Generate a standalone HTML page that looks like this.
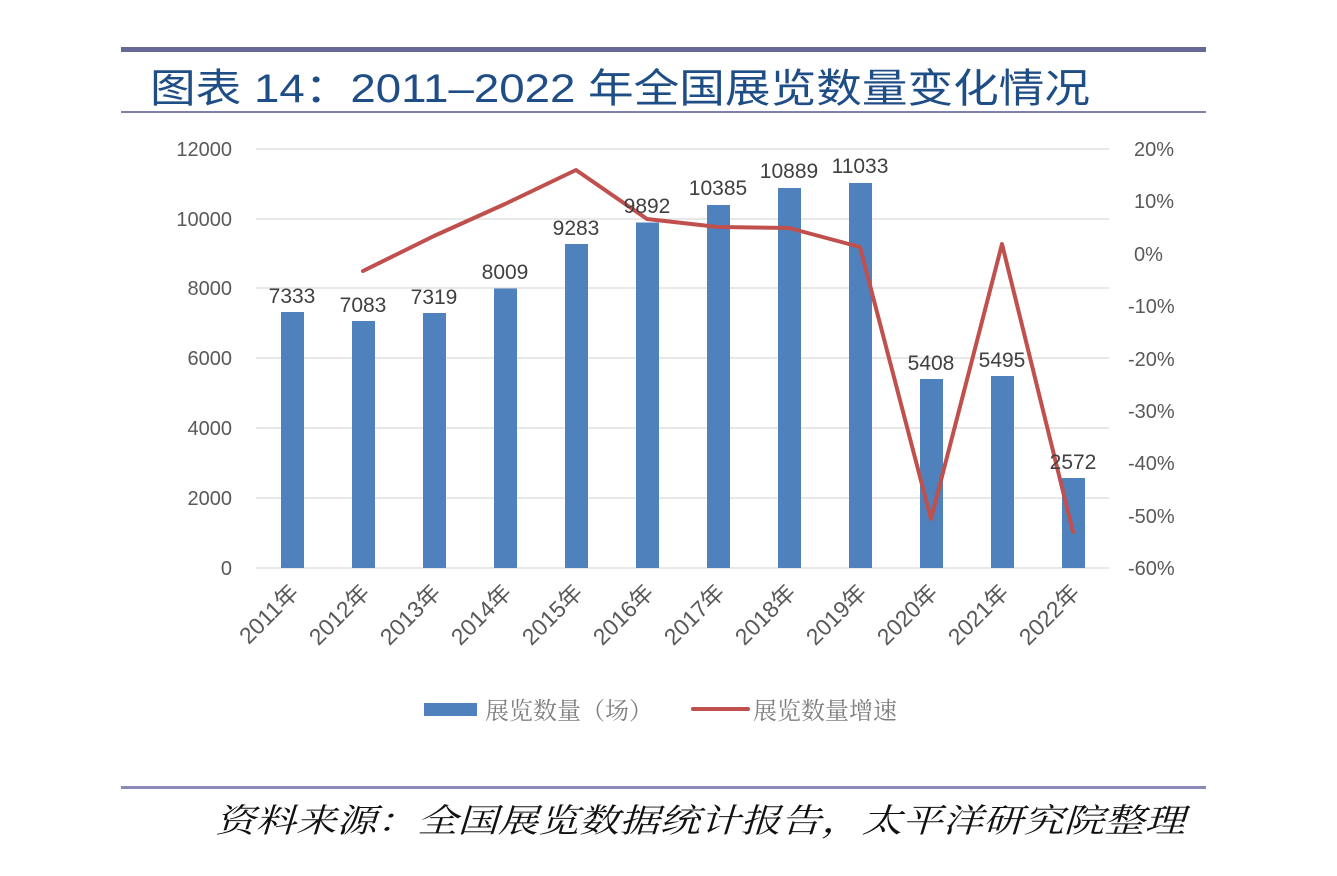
<!DOCTYPE html>
<html><head><meta charset="utf-8"><style>
html,body{margin:0;padding:0;background:#fff;}
svg{display:block;}
</style></head><body>
<svg width="1337" height="876" viewBox="0 0 1337 876" xmlns="http://www.w3.org/2000/svg">
<rect x="121" y="47" width="1085" height="5" fill="#686898"/>
<text x="150" y="102" font-family="'Liberation Sans','Noto Sans CJK SC',sans-serif" font-size="40" fill="#1f4e87" textLength="940" lengthAdjust="spacingAndGlyphs">图表 14：2011–2022 年全国展览数量变化情况</text>
<rect x="121" y="111" width="1085" height="2" fill="#8080b0"/>
<g stroke="#d9d9d9" stroke-width="1.2">
<line x1="256" y1="149" x2="1109" y2="149"/><line x1="256" y1="219" x2="1109" y2="219"/>
<line x1="256" y1="288" x2="1109" y2="288"/><line x1="256" y1="358" x2="1109" y2="358"/>
<line x1="256" y1="428" x2="1109" y2="428"/><line x1="256" y1="498" x2="1109" y2="498"/>
<line x1="256" y1="568" x2="1109" y2="568"/>
</g>
<g font-family="'Liberation Sans',sans-serif" font-size="20" fill="#595959" text-anchor="end">
<text x="232" y="156">12000</text><text x="232" y="226">10000</text><text x="232" y="295">8000</text>
<text x="232" y="365">6000</text><text x="232" y="435">4000</text><text x="232" y="505">2000</text><text x="232" y="575">0</text>
</g>
<g font-family="'Liberation Sans',sans-serif" font-size="20" fill="#595959">
<text x="1134" y="156">20%</text><text x="1134" y="208">10%</text><text x="1134" y="261">0%</text>
<text x="1128" y="313">-10%</text><text x="1128" y="366">-20%</text><text x="1128" y="418">-30%</text>
<text x="1128" y="470">-40%</text><text x="1128" y="523">-50%</text><text x="1128" y="575">-60%</text>
</g>
<g fill="#4f81bd">
<rect x="281" y="312" width="23" height="256"/>
<rect x="352" y="321" width="23" height="247"/>
<rect x="423" y="313" width="23" height="255"/>
<rect x="494" y="288.5" width="23" height="279.5"/>
<rect x="565" y="244" width="23" height="324"/>
<rect x="636" y="222.5" width="23" height="345.5"/>
<rect x="707" y="205" width="23" height="363"/>
<rect x="778" y="188" width="23" height="380"/>
<rect x="849" y="183" width="23" height="385"/>
<rect x="920" y="379" width="23" height="189"/>
<rect x="991" y="376" width="23" height="192"/>
<rect x="1062" y="478" width="23" height="90"/>
</g>
<polyline fill="none" stroke="#c0504d" stroke-width="4" stroke-linejoin="round" stroke-linecap="round"
points="363,271 434,236 505,204 576,170 647,219 718,227 789,228 860,247 931,519 1002,244 1073,532"/>
<g font-family="'Liberation Sans',sans-serif" font-size="21" fill="#404040" text-anchor="middle">
<text x="292" y="303">7333</text><text x="363" y="312">7083</text><text x="434" y="304">7319</text>
<text x="505" y="279">8009</text><text x="576" y="235">9283</text><text x="647" y="213">9892</text>
<text x="718" y="195">10385</text><text x="789" y="178">10889</text><text x="860" y="173">11033</text>
<text x="931" y="370">5408</text><text x="1002" y="367">5495</text><text x="1073" y="469">2572</text>
</g>
<g font-family="'Liberation Sans','Noto Sans CJK SC',sans-serif" font-size="23" fill="#595959" text-anchor="end">
<text transform="translate(300,594) rotate(-45)">2011年</text>
<text transform="translate(371,594) rotate(-45)">2012年</text>
<text transform="translate(442,594) rotate(-45)">2013年</text>
<text transform="translate(513,594) rotate(-45)">2014年</text>
<text transform="translate(584,594) rotate(-45)">2015年</text>
<text transform="translate(655,594) rotate(-45)">2016年</text>
<text transform="translate(726,594) rotate(-45)">2017年</text>
<text transform="translate(797,594) rotate(-45)">2018年</text>
<text transform="translate(868,594) rotate(-45)">2019年</text>
<text transform="translate(939,594) rotate(-45)">2020年</text>
<text transform="translate(1010,594) rotate(-45)">2021年</text>
<text transform="translate(1081,594) rotate(-45)">2022年</text>
</g>
<rect x="424" y="703" width="53" height="13" fill="#4f81bd"/>
<text x="485" y="719" font-family="'Noto Serif CJK SC',serif" font-size="24" fill="#7f7f7f">展览数量（场）</text>
<line x1="693" y1="709" x2="748" y2="709" stroke="#c0504d" stroke-width="4" stroke-linecap="round"/>
<text x="753" y="719" font-family="'Noto Serif CJK SC',serif" font-size="24" fill="#7f7f7f">展览数量增速</text>
<rect x="121" y="786" width="1085" height="3" fill="#8a8ab8"/>
<text x="215" y="832" font-family="'Noto Serif CJK SC',serif" font-size="33" font-style="italic" fill="#111" textLength="970" lengthAdjust="spacingAndGlyphs">资料来源：全国展览数据统计报告，太平洋研究院整理</text>
</svg>
</body></html>
